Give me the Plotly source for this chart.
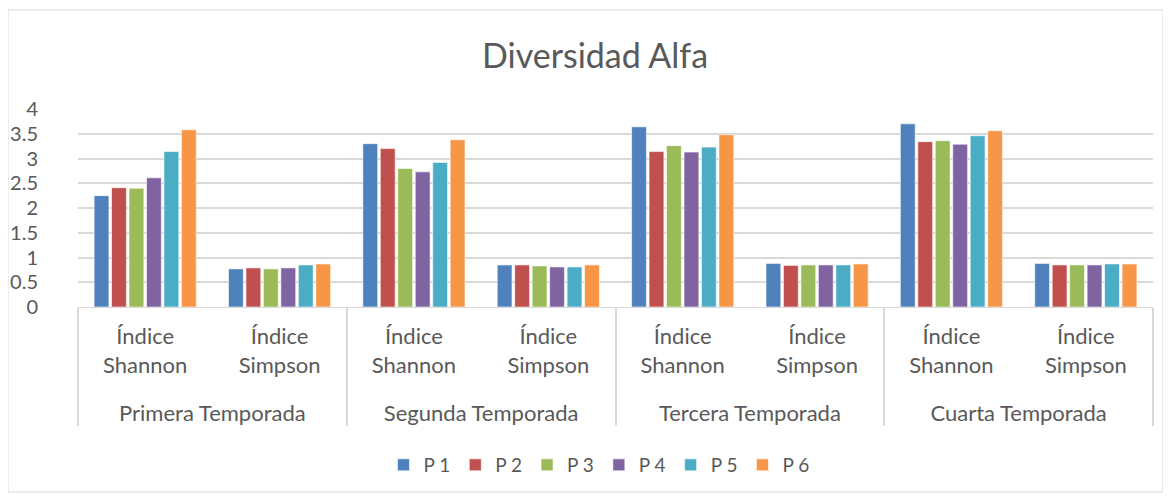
import plotly.graph_objects as go

seasons = ["<br>Primera Temporada", "<br>Segunda Temporada", "<br>Tercera Temporada", "<br>Cuarta Temporada"]
indices = ["Índice<br>Shannon", "Índice<br>Simpson"]
series_names = ["P 1", "P 2", "P 3", "P 4", "P 5", "P 6"]

# values per series: [S1 Shannon, S1 Simpson, S2 Shannon, S2 Simpson, S3 Shannon, S3 Simpson, S4 Shannon, S4 Simpson]
p1 = [2.25, 0.77, 3.30, 0.85, 3.64, 0.88, 3.70, 0.88]
p2 = [2.41, 0.79, 3.20, 0.85, 3.14, 0.84, 3.34, 0.85]
p3 = [2.40, 0.77, 2.80, 0.83, 3.26, 0.85, 3.36, 0.85]
p4 = [2.61, 0.79, 2.73, 0.81, 3.13, 0.85, 3.29, 0.85]
p5 = [3.14, 0.85, 2.92, 0.81, 3.23, 0.85, 3.46, 0.87]
p6 = [3.58, 0.87, 3.38, 0.85, 3.48, 0.87, 3.56, 0.87]
all_values = [p1, p2, p3, p4, p5, p6]
colors = ["#4F81BD", "#C0504D", "#9BBB59", "#8064A2", "#4BACC6", "#F79646"]

x_outer = [s for s in seasons for _ in indices]
x_inner = [i for _ in seasons for i in indices]

FONT = "Lato, Calibri, Carlito, sans-serif"
TXT = "#595959"

fig = go.Figure()
for name, vals, col in zip(series_names, all_values, colors):
    fig.add_trace(go.Bar(
        x=[x_outer, x_inner], y=vals, name=name,
        marker=dict(color=col, line=dict(color="rgba(255,255,255,0.6)", width=1)),
    ))

OFF = 8  # page body margin offset
W, H = 1171 - OFF, 497 - OFF
L, R, T, B = 78 - OFF, 1153 - OFF, 109 - OFF, 307 - OFF


def py(page_y):
    return (B - (page_y - OFF)) / (B - T)


def px(page_x):
    return ((page_x - OFF) - L) / (R - L)


fig.update_layout(
    width=W, height=H,
    margin=dict(l=L, r=W - R, t=T, b=H - B, autoexpand=False),
    paper_bgcolor="white", plot_bgcolor="white",
    barmode="group", bargap=0.22, bargroupgap=0.15,
    font=dict(family=FONT, color=TXT, size=18),
    title=dict(text="Diversidad Alfa", x=(595 - OFF) / W, xanchor="center",
               y=1 - (56 - OFF) / H, yanchor="middle", yref="container",
               font=dict(family=FONT, size=34, color=TXT)),
    showlegend=True,
    legend=dict(orientation="h", x=px(599), xanchor="center",
                y=py(465), yanchor="middle",
                font=dict(family=FONT, size=19, color=TXT),
                traceorder="normal", itemwidth=30),
    xaxis=dict(type="multicategory", showline=True, linecolor="#D9D9D9", linewidth=1,
               showdividers=True, dividercolor="#D9D9D9", dividerwidth=1.5,
               ticks="", tickfont=dict(family=FONT, size=22, color=TXT),
               ticklabelstandoff=10, showgrid=False, automargin=False),
    yaxis=dict(range=[0, 4], dtick=0.5, tickformat="~g", showgrid=True,
               gridcolor="#D9D9D9", gridwidth=1.5, zeroline=False, showline=False,
               tickfont=dict(family=FONT, size=20, color=TXT), ticks="",
               ticklabelstandoff=39, automargin=False),
)

# outer chart border
fig.add_shape(type="rect", xref="paper", yref="paper",
              x0=px(8), x1=px(1163), y0=py(492), y1=py(10),
              line=dict(color="#D9D9D9", width=1), layer="below")

fig.write_html("out.html")
